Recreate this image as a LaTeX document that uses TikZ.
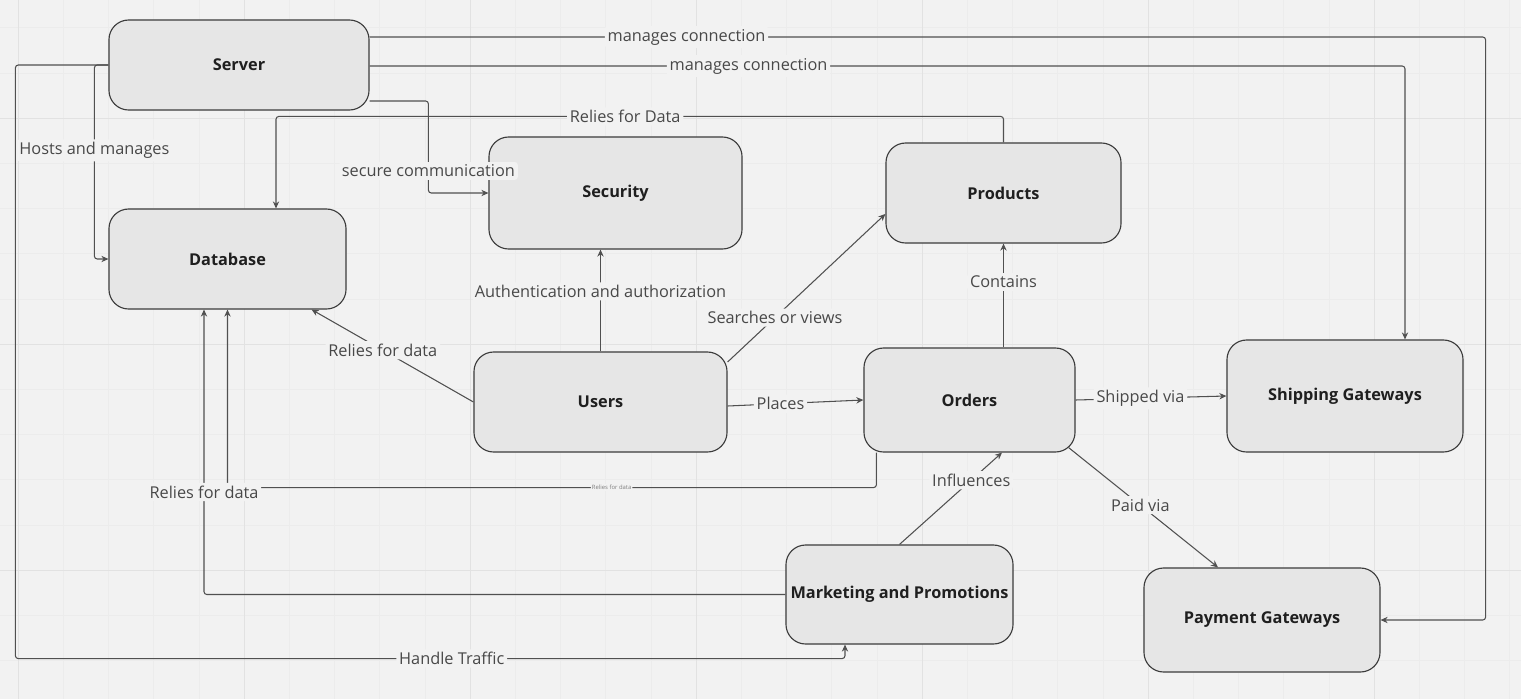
\documentclass[tikz,border=0pt]{standalone}
\usepackage{fontspec}
\setmainfont{Open Sans}
\usetikzlibrary{arrows.meta,positioning,calc}
\definecolor{bggray}{RGB}{242,242,242}
\definecolor{gridminor}{RGB}{236,236,236}
\definecolor{gridmajor}{RGB}{226,226,226}
\definecolor{boxfill}{RGB}{230,230,230}
\definecolor{boxline}{RGB}{60,60,60}
\definecolor{linkgray}{RGB}{80,80,80}
\definecolor{lblgray}{RGB}{72,72,72}

\tikzset{
  box/.style={draw=boxline, fill=boxfill, line width=0.8pt, rounded corners=14pt,
    font=\bfseries\fontsize{11.6}{13}\selectfont, text=black!88, inner sep=0pt},
  link/.style={draw=linkgray, line width=0.75pt, rounded corners=2pt,
    -{Stealth[length=5pt,width=4.5pt]}},
  lbl/.style={fill=bggray, text=lblgray, font=\fontsize{11.6}{13}\selectfont, inner sep=2pt},
  tinylbl/.style={lbl, font=\fontsize{4.2}{5}\selectfont, inner sep=0.8pt, text=lblgray!70}
}

\begin{document}
\begin{tikzpicture}[x=0.025cm, y=-0.025cm]
% Canvas and grid
\useasboundingbox (0,0) rectangle (1521,699);
\fill[bggray] (0,0) rectangle (1521,699);
\foreach \gx in {0,...,33} {
  \draw[gridminor, line width=0.6pt] ({18.3+45.2*\gx},0) -- ++(0,699);
}
\foreach \gy in {0,...,14} {
  \draw[gridminor, line width=0.6pt] (0,{27.9+45.2*\gy}) -- ++(1521,0);
}
\foreach \gx in {0,...,6} {
  \draw[gridmajor, line width=0.8pt] ({18.3+226*\gx},0) -- ++(0,699);
}
\foreach \gy in {0,...,2} {
  \draw[gridmajor, line width=0.8pt] (0,{118.3+226*\gy}) -- ++(1521,0);
}

% Boxes
\node[box, minimum width=6.5cm, minimum height=2.25cm] (server) at (239,65) {Server};
\node[box, minimum width=5.925cm, minimum height=2.5cm] (database) at (227.5,259) {Database};
\node[box, minimum width=6.325cm, minimum height=2.8cm] (security) at (615.5,193) {Security};
\node[box, minimum width=5.875cm, minimum height=2.5cm] (products) at (1003.5,193) {Products};
\node[box, minimum width=6.325cm, minimum height=2.5cm] (users) at (600.5,402) {Users};
\node[box, minimum width=5.275cm, minimum height=2.6cm] (orders) at (969.5,400) {Orders};
\node[box, minimum width=5.9cm, minimum height=2.8cm] (shipping) at (1345,396) {Shipping Gateways};
\node[box, minimum width=5.675cm, minimum height=2.475cm] (marketing) at (899.5,594.5) {Marketing and Promotions};
\node[box, minimum width=5.9cm, minimum height=2.6cm] (payment) at (1262,620) {Payment Gateways};

% Server connections
\draw[link] ($(server.east)+(0,-28)$) -| node[lbl, pos=0.142] {manages connection}
  ($(payment.east)+(105,0)$) -- (payment.east);
\draw[link] ($(server.east)+(0,1)$) -| node[lbl, pos=0.183] {manages connection}
  ($(shipping.north)+(60,0)$);
\draw[link] ($(server.east)+(0,36)$) -| node[lbl, pos=0.88] {secure communication}
  ($(security.west)+(-60,0)$) -- (security.west);
\draw[link] (server.west) -- ++(-14,0) |- node[lbl, pos=0.22] {Hosts and manages} (database.west);
\draw[link] (server.west) -- ++(-93,0) |- node[lbl, pos=0.763] {Handle Traffic}
  ($(marketing.south)+(-54.5,14)$) -- ($(marketing.south)+(-54.5,0)$);

% Data dependencies
\draw[link] (products.north) -- ++(0,-26) -| node[lbl, pos=0.26] {Relies for Data}
  ($(database.north)+(48.5,0)$);
\draw[link] (users.west) -- node[lbl, pos=0.56] {Relies for data} ($(database.south east)+(-35,0)$);
\draw[link] ($(orders.south west)+(13,0)$) -- ++(0,35) -| node[tinylbl, pos=0.204] {Relies for data}
  (database.south);
\draw[link] (marketing.west) -| node[lbl, pos=0.68] {Relies for data} ($(database.south)+(-23.5,0)$);

% User and order flow
\draw[link] (users.north) -- node[lbl, pos=0.59] {Authentication and authorization}
  (users.north |- security.south);
\draw[link] ($(users.east)+(0,-40)$) -- node[lbl, pos=0.3] {Searches or views} ($(products.west)+(0,21)$);
\draw[link] ($(users.east)+(0,4)$) -- node[lbl, pos=0.39] {Places} (orders.west);
\draw[link] (products.south |- orders.north) -- node[lbl, pos=0.63] {Contains} (products.south);
\draw[link] (orders.east) -- node[lbl, pos=0.43] {Shipped via} (shipping.west);
\draw[link] ($(orders.south east)+(-7,-5)$) -- node[lbl, pos=0.48] {Paid via} ($(payment.north)+(-44,0)$);
\draw[link] (marketing.north) -- node[lbl, pos=0.7] {Influences} ($(orders.south)+(32.5,0)$);
\end{tikzpicture}
\end{document}
